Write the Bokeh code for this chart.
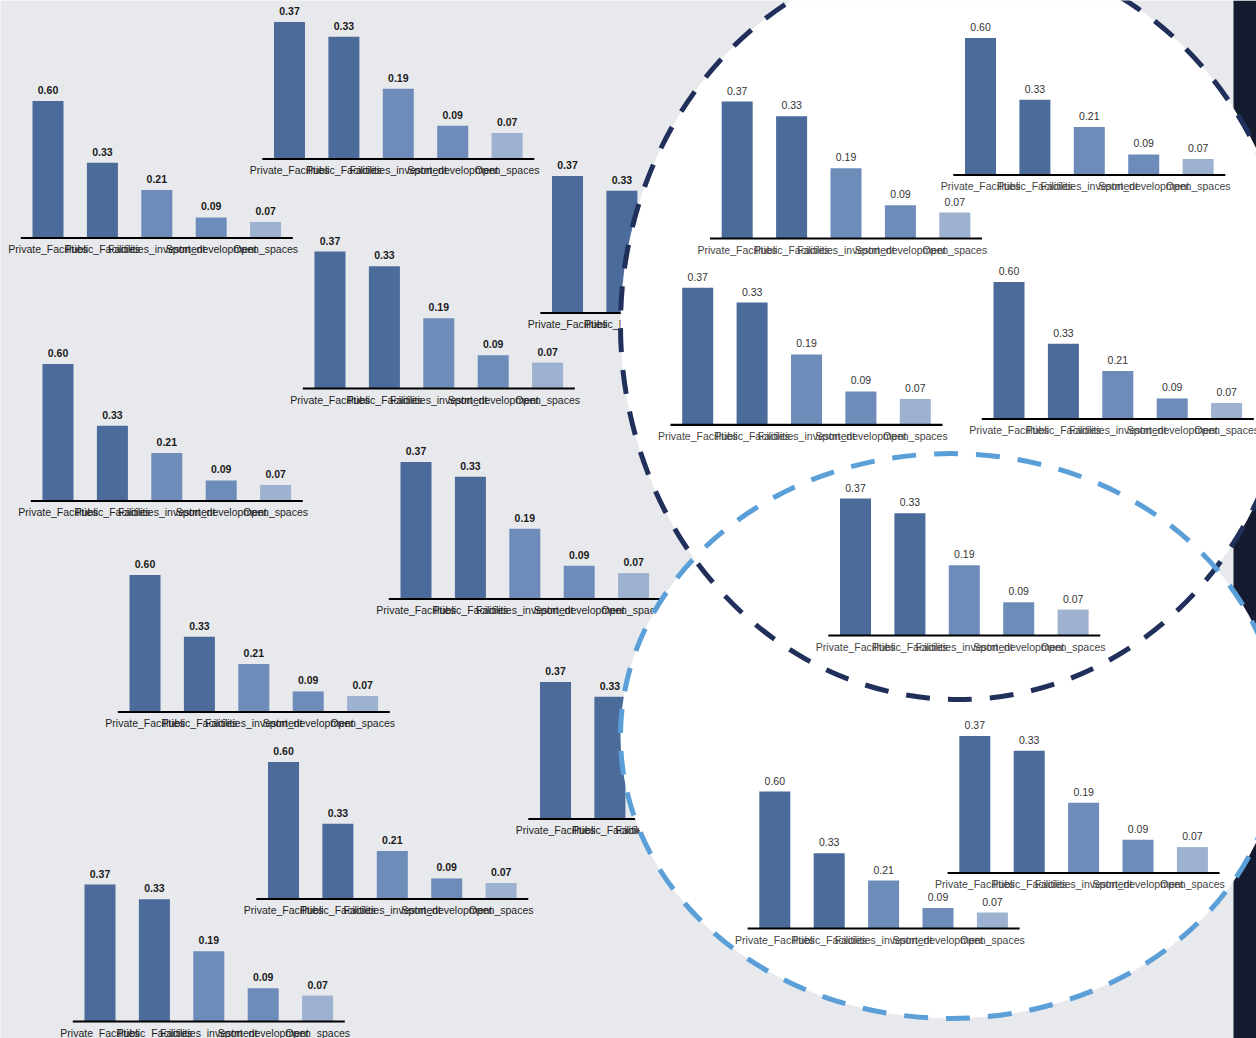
from bokeh.plotting import figure
from bokeh.models import Range1d, ColumnDataSource
from bokeh.core.properties import value
from bokeh.embed import file_html
from bokeh.resources import INLINE

# ---- data ----
categories = ["Private_Facilities", "Public_Facilities", "Facilities_investment",
              "Sport_development", "Open_spaces"]
values_a = [0.60, 0.33, 0.21, 0.09, 0.07]
values_b = [0.37, 0.33, 0.19, 0.09, 0.07]
series = {"a": values_a, "b": values_b}
bar_colors = ["#4b6b9b", "#4b6b9b", "#6d8cba", "#6d8cba", "#9db1d0"]

# ---- layout (pixel placement of each small chart: series, first bar centre x, baseline y) ----
W, H = 1256, 1038
SPACING = 54.4      # px between bar centres
MAX_H = 137.0       # px height of the tallest bar in each small chart
BAR_W = 0.57        # in category units

panels_back = [("a", 47.5, 237.5), ("b", 289, 158.5), ("b", 567, 312.5),
               ("b", 329.5, 388), ("a", 57.5, 500.5), ("b", 415.5, 598.5),
               ("a", 144.5, 711.5), ("b", 555, 818.5), ("a", 283, 898.5),
               ("b", 99.5, 1021)]
panels_front = [("b", 736.7, 238), ("a", 980, 174.5), ("b", 697.2, 424.3),
                ("a", 1008.5, 418.5), ("b", 855, 635), ("a", 774.3, 928),
                ("b", 974.3, 872.5)]

# decorative ellipses: centre x, centre y, width, height, colour
ellipses = [(958, 325, 676, 748, "#20305a"), (950, 735.5, 660, 565, "#5a9fd8")]
BAND_LEFT = 1233

BG = "#e8e9ec"
p = figure(width=W, height=H, x_range=Range1d(0, W), y_range=Range1d(H, 0),
           output_backend="svg", toolbar_location=None, min_border=0,
           x_axis_type=None, y_axis_type=None,
           background_fill_color=BG, border_fill_color=BG, outline_line_color=None)
p.grid.visible = False

extra_x, extra_y = {}, {}
FONT = value("Liberation Sans")


def draw_panel(k, key, x0, yb, front):
    vals = series[key]
    vmax = max(vals)
    upp = vmax / MAX_H
    xr, yr = f"x{k}", f"y{k}"
    extra_x[xr] = Range1d(start=-x0 / SPACING, end=(W - x0) / SPACING)
    extra_y[yr] = Range1d(start=-(H - yb) * upp, end=yb * upp)
    n = len(categories)
    src = ColumnDataSource(dict(
        x=list(range(n)), top=vals, color=bar_colors, cat=categories,
        lab=[f"{v:.2f}" for v in vals],
        ly=[v + 11 * upp for v in vals],
        cy=[-11.2 * upp] * n))
    p.vbar(x="x", top="top", bottom=0, width=BAR_W, fill_color="color",
           line_color=None, source=src, x_range_name=xr, y_range_name=yr)
    p.segment(x0=[-0.5], x1=[n - 0.5], y0=[0], y1=[0], line_color="black",
              line_width=2.2, x_range_name=xr, y_range_name=yr)
    p.text(x="x", y="ly", text="lab", source=src, x_range_name=xr, y_range_name=yr,
           text_align="center", text_baseline="middle", text_font=FONT,
           text_font_size=value("10.5px"),
           text_font_style="normal" if front else "bold",
           text_color="#333333" if front else "#1a1a1a")
    p.text(x="x", y="cy", text="cat", source=src, x_range_name=xr, y_range_name=yr,
           text_align="center", text_baseline="middle", text_font=FONT,
           text_font_size=value("10.5px"), text_font_style="normal",
           text_color="#444444" if front else "#1e1e1e")


# dark band on the right
p.quad(left=[BAND_LEFT], right=[W], top=[0], bottom=[H], fill_color="#141b2e", line_color=None)

k = 0
for key, x0, yb in panels_back:
    draw_panel(k, key, x0, yb, False)
    k += 1

for cx, cy, w, h, col in ellipses:
    p.ellipse(x=[cx], y=[cy], width=[w], height=[h], fill_color="white", line_color=None)
for cx, cy, w, h, col in ellipses:
    p.ellipse(x=[cx], y=[cy], width=[w], height=[h], fill_color=None,
              line_color=col, line_width=5, line_dash="24 18")

for key, x0, yb in panels_front:
    draw_panel(k, key, x0, yb, True)
    k += 1

p.extra_x_ranges = extra_x
p.extra_y_ranges = extra_y

open("out.html", "w").write(file_html(p, INLINE))
